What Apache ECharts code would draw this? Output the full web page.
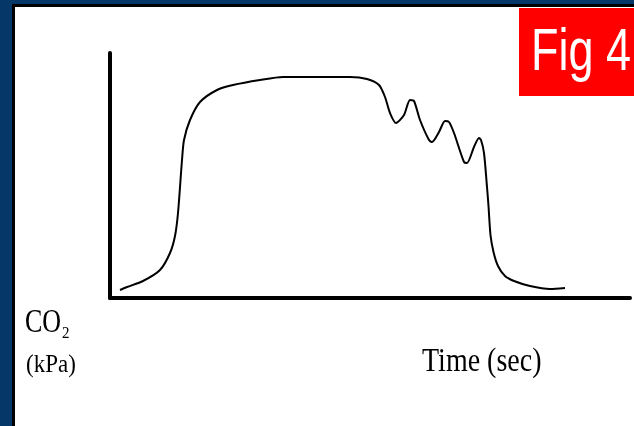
<!DOCTYPE html>
<html>
<head>
<meta charset="utf-8">
<script src="https://cdn.jsdelivr.net/npm/echarts@6/dist/echarts.min.js"></script>
<style>
  html, body { margin: 0; padding: 0; background: #fff; }
  #capno { width: 634px; height: 426px; }
</style>
</head>
<body>
<div id="capno"></div>
<script>
// capnogram trace (time units arbitrary, CO2 in tenths of the grid)
const timePts = [
  1.0, 1.7, 3.3, 5.0, 6.0, 6.5, 6.8, 7.2, 7.4, 8.0, 9.0, 10.7, 12.3, 15.0, 17.3, 20.7,
  24.0, 25.7, 26.9, 27.5, 28.0, 28.6, 29.4, 30.0, 30.4, 31.0, 31.9, 32.2, 32.9, 33.5,
  33.9, 34.4, 35.4, 35.7, 36.4, 36.9, 37.1, 37.4, 37.7, 37.85, 38.05, 38.35, 38.8, 39.5,
  40.4, 42.0, 44.0, 45.5
];
const co2Pts = [
  0.8, 1.1, 1.7, 2.8, 4.5, 6.2, 8.5, 13.8, 15.8, 17.8, 19.6, 20.8, 21.3, 21.8, 22.1, 22.1,
  22.1, 21.9, 21.3, 20.1, 18.5, 17.5, 18.3, 19.8, 19.7, 17.8, 15.8, 15.6, 16.6, 17.7,
  17.6, 16.5, 13.6, 13.5, 15.1, 16.0, 15.8, 14.5, 11.1, 9.2, 6.3, 4.6, 3.2, 2.2,
  1.7, 1.2, 0.9, 1.0
];

const chart = echarts.init(document.getElementById('capno'));

const axisStyle = {
  show: true,
  lineStyle: { color: '#000', width: 4 }
};

chart.setOption({
  backgroundColor: '#fff',
  animation: false,
  grid: {
    left: 110,
    right: 4,
    top: 53,
    bottom: 128
  },
  xAxis: {
    type: 'value',
    min: 0,
    max: 52,
    axisLine: axisStyle,
    axisTick: { show: false },
    axisLabel: { show: false },
    splitLine: { show: false }
  },
  yAxis: {
    type: 'value',
    min: 0,
    max: 24.5,
    axisLine: axisStyle,
    axisTick: { show: false },
    axisLabel: { show: false },
    splitLine: { show: false }
  },
  series: [{
    type: 'line',
    data: timePts.map((t, i) => [t, co2Pts[i]]),
    showSymbol: false,
    smooth: 0.25,
    lineStyle: { color: '#000', width: 2 }
  }],
  graphic: [
    // slide frame
    { type: 'rect', shape: { x: 0, y: 0, width: 634, height: 4 }, style: { fill: '#053868' } },
    { type: 'rect', shape: { x: 0, y: 0, width: 12, height: 426 }, style: { fill: '#053868' } },
    { type: 'rect', shape: { x: 12, y: 4, width: 622, height: 3 }, style: { fill: '#000' } },
    { type: 'rect', shape: { x: 12, y: 4, width: 3, height: 422 }, style: { fill: '#000' } },
    // red tag
    { type: 'rect', shape: { x: 519, y: 8, width: 115, height: 88 }, style: { fill: '#ff0000' } },
    {
      type: 'text', x: 531, y: 53, scaleX: 0.75,
      style: {
        text: 'Fig 4', fill: '#fff',
        font: '60px "Liberation Sans", Arial, sans-serif',
        align: 'left', verticalAlign: 'middle'
      }
    },
    // labels
    {
      type: 'text', x: 25, y: 323, scaleY: 1.3,
      style: {
        text: 'CO', fill: '#000',
        font: '26px "Liberation Serif", "Times New Roman", serif',
        align: 'left', verticalAlign: 'middle'
      }
    },
    {
      type: 'text', x: 62, y: 334, scaleY: 1.1,
      style: {
        text: '2', fill: '#000',
        font: '15px "Liberation Serif", "Times New Roman", serif',
        align: 'left', verticalAlign: 'middle'
      }
    },
    {
      type: 'text', x: 26, y: 365, scaleY: 1.12,
      style: {
        text: '(kPa)', fill: '#000',
        font: '23px "Liberation Serif", "Times New Roman", serif',
        align: 'left', verticalAlign: 'middle'
      }
    },
    {
      type: 'text', x: 422, y: 362, scaleY: 1.24,
      style: {
        text: 'Time (sec)', fill: '#000',
        font: '28px "Liberation Serif", "Times New Roman", serif',
        align: 'left', verticalAlign: 'middle'
      }
    }
  ]
});
</script>
</body>
</html>
